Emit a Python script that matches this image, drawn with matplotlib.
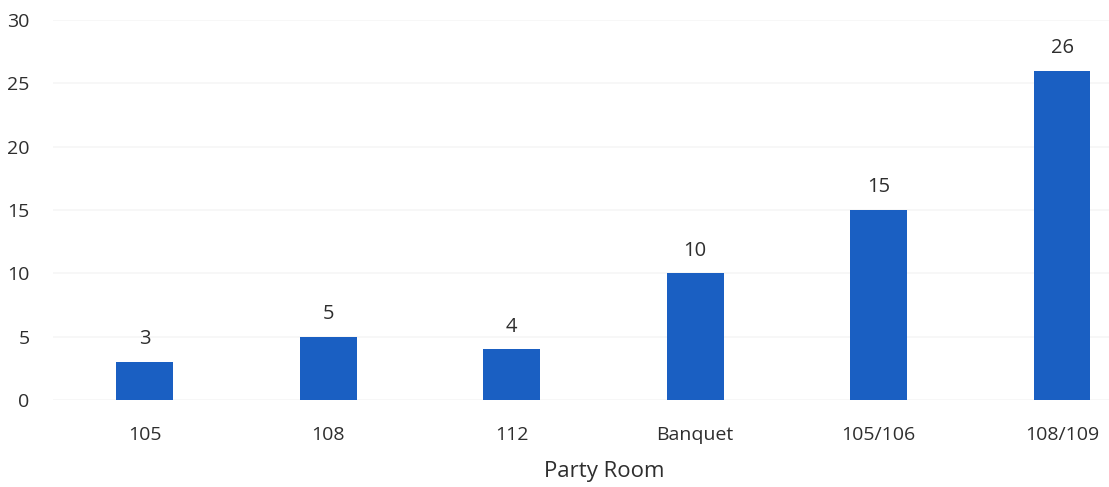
import matplotlib.pyplot as plt

rooms = ['105', '108', '112', 'Banquet', '105/106', '108/109']
counts = [3, 5, 4, 10, 15, 26]

plt.rcParams['font.family'] = ['Open Sans', 'DejaVu Sans']

fig = plt.figure(figsize=(11.09, 4.87), dpi=100)
ax = fig.add_axes([53 / 1109, 87 / 487, 1056 / 1109, 380 / 487])

x = range(len(rooms))
ax.bar(x, counts, width=0.31, color='#1a5fc2', zorder=2)
for i, v in zip(x, counts):
    ax.text(i, v + 1.0, str(v), ha='center', va='bottom', fontsize=14.5, color='#2e2e2e')

ax.set_xlim(-0.5, 5.256)
ax.set_ylim(0, 30)
ax.set_yticks(range(0, 31, 5))
ax.set_xticks(list(x))
ax.set_xticklabels(rooms)
ax.grid(axis='y', color='#f6f6f6', linewidth=1.2, zorder=0)
for s in ax.spines.values():
    s.set_visible(False)
ax.tick_params(length=0, labelsize=14, colors='#2e2e2e')
ax.tick_params(axis='y', pad=17)
ax.tick_params(axis='x', pad=19)
ax.set_xlabel('Party Room', fontsize=16, color='#2e2e2e')
ax.xaxis.set_label_coords(0.522, -0.16)

fig.savefig('out.png', dpi=100)
